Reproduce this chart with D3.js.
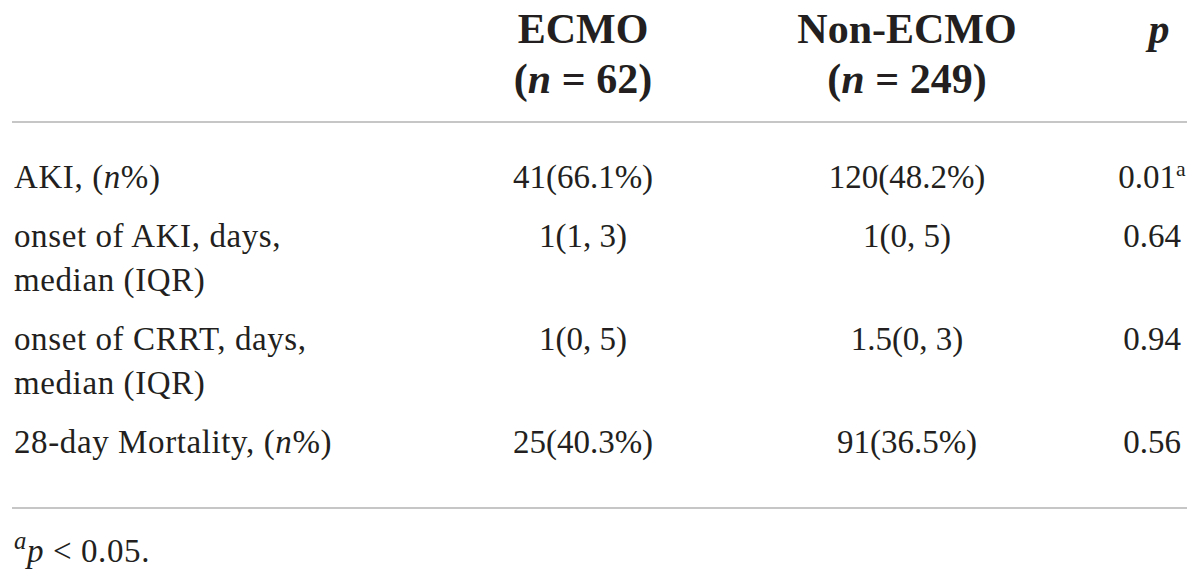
<!DOCTYPE html>
<html>
<head>
<meta charset="utf-8">
<script src="https://cdn.jsdelivr.net/npm/d3@7"></script>
<style>
  html, body { margin: 0; padding: 0; background: #fff; }
  svg { display: block; }
</style>
</head>
<body>
<svg id="tbl" width="1200" height="581"></svg>
<script>
// table content, _x_ marks italic, ^x^ marks superscript
const columnKeys = ["label", "ecmo", "nonEcmo", "p"];
const headerLines = {
    ecmo: ["ECMO", "(_n_ = 62)"],
    nonEcmo: ["Non-ECMO", "(_n_ = 249)"],
    p: ["_p_"]
};
const rowLabels = [
    ["AKI, (_n_%)"],
    ["onset of AKI, days,", "median (IQR)"],
    ["onset of CRRT, days,", "median (IQR)"],
    ["28-day Mortality, (_n_%)"]
];
const ecmoValues = ["41(66.1%)", "1(1, 3)", "1(0, 5)", "25(40.3%)"];
const nonEcmoValues = ["120(48.2%)", "1(0, 5)", "1.5(0, 3)", "91(36.5%)"];
const pValues = ["0.01", "0.64", "0.94", "0.56"];
const pMarks = ["a", "", "", ""];
const footnote = "^a^_p_ < 0.05.";

const serif = "'Liberation Serif', 'Times New Roman', serif";
const bodySize = 33, headSize = 42;
const ink = "#231f20";

let svg = d3.select("#tbl");

// column anchors
let xCol = d3.scaleOrdinal()
    .domain(columnKeys)
    .range([14, 583, 907, 1152]);

// each text line gets a slot, rows get an extra gap
let lineSlots = [];
rowLabels.forEach(function(lines, r){
    lines.forEach(function(l, k){ lineSlots.push({row: r, line: k}); });
});
let lineStep = 44.5, rowGap = 14;
let yLine = d3.scaleLinear().domain([0, 1]).range([188, 188 + lineStep]);
function rowY(r, k){
    let idx = lineSlots.findIndex(function(s){ return s.row == r && s.line == k; });
    return yLine(idx) + r * rowGap;
}

// write a string with _italic_ and ^super^ pieces as tspans
function rich( sel, str ){
    let parts = str.split(/(_[^_]+_|\^[^\^]+\^)/).filter(function(s){ return s.length; });
    parts.forEach(function(p){
        let t = sel.append("tspan");
        if( p[0] == "_" ){
            t.style("font-style", "italic").text(p.slice(1, -1));
        } else if( p[0] == "^" ){
            t.style("font-style", "italic").attr("font-size", "0.75em")
             .attr("baseline-shift", "super").text(p.slice(1, -1));
        } else {
            t.text(p);
        }
    });
}

// header
let gHead = svg.append("g")
    .attr("font-family", serif)
    .attr("font-weight", "bold")
    .attr("font-size", headSize + "px")
    .attr("fill", ink)
    .attr("text-anchor", "middle");

["ecmo", "nonEcmo", "p"].forEach(function(k){
    headerLines[k].forEach(function(line, i){
        let t = gHead.append("text")
            .attr("x", xCol(k) + (k == "p" ? 7 : 0))
            .attr("y", 43 + i * 50);
        rich(t, line);
    });
});

// rules
let rules = [122, 508];
svg.append("g").selectAll("line")
    .data(rules)
    .enter().append("line")
    .attr("x1", 12).attr("x2", 1187)
    .attr("y1", function(d){ return d; })
    .attr("y2", function(d){ return d; })
    .attr("stroke", "#c6c6c6")
    .attr("stroke-width", 2);

// body
let gBody = svg.append("g")
    .attr("font-family", serif)
    .attr("font-size", bodySize + "px")
    .attr("fill", ink);

rowLabels.forEach(function(lines, r){
    lines.forEach(function(line, k){
        let t = gBody.append("text")
            .attr("x", xCol("label"))
            .attr("y", rowY(r, k))
            .attr("letter-spacing", "0.6px");
        rich(t, line);
    });
});

function valueColumn( key, vals ){
    gBody.append("g").selectAll("text")
        .data(vals)
        .enter().append("text")
        .attr("text-anchor", "middle")
        .attr("x", xCol(key))
        .attr("y", function(d, i){ return rowY(i, 0); })
        .text(function(d){ return d; });
}
valueColumn("ecmo", ecmoValues);
valueColumn("nonEcmo", nonEcmoValues);

pValues.forEach(function(v, i){
    let t = gBody.append("text")
        .attr("text-anchor", "middle")
        .attr("x", xCol("p"))
        .attr("y", rowY(i, 0));
    t.append("tspan").text(v);
    if( pMarks[i] ){
        t.append("tspan").attr("font-size", "0.66em")
         .attr("baseline-shift", "super").text(pMarks[i]);
    }
});

// footnote
let fn = gBody.append("text")
    .attr("x", 14)
    .attr("y", 562)
    .attr("letter-spacing", "0.6px");
rich(fn, footnote);
</script>
</body>
</html>
